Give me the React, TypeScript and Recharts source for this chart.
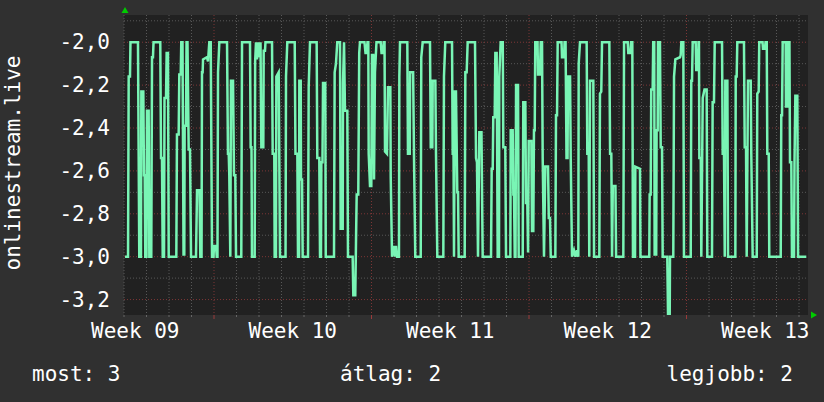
import React from 'react';
import { LineChart, Line, XAxis, YAxis, CartesianGrid } from 'recharts';

// time in hours from the left edge of the graph window, value of onlinestream.live
const hours = [
  1.1, 4.3, 5.0, 6.4, 6.9, 14.9, 16.3, 18.1, 18.5, 20.6, 21.3, 22.1, 22.7, 24.0, 24.5, 26.3, 27.0, 29.1, 29.9, 30.9,
  31.5, 38.7, 39.5, 40.5, 41.3, 42.7, 43.2, 44.8, 45.5, 46.9, 47.7, 55.8, 56.5, 58.3, 59.0, 60.5, 61.1, 62.4, 63.5, 64.3,
  64.7, 66.1, 66.7, 67.7, 69.0, 70.4, 71.5, 76.8, 77.9, 80.5, 81.4, 82.7, 83.2, 83.9, 84.3, 88.5, 89.6, 91.0, 92.5, 93.9,
  95.5, 96.0, 98.1, 98.9, 99.7, 100.3, 101.7, 109.9, 110.9, 111.7, 112.3, 113.4, 114.1, 116.3, 117.3, 118.7, 119.5, 125.1, 125.9, 134.4,
  135.1, 136.0, 136.5, 139.4, 139.9, 140.8, 141.9, 142.9, 144.3, 145.6, 146.5, 148.6, 149.0, 150.4, 150.9, 157.9, 158.6, 160.3, 160.7, 162.1,
  162.5, 165.0, 166.4, 172.3, 172.8, 174.2, 182.1, 182.9, 184.9, 185.6, 186.7, 187.0, 188.5, 188.8, 189.9, 190.6, 196.3, 197.0, 198.4, 205.5,
  206.2, 208.3, 209.1, 210.1, 210.5, 211.7, 212.3, 214.7, 215.2, 224.0, 224.7, 226.1, 227.5, 230.4, 231.1, 233.3, 233.6, 234.7, 235.7, 238.2,
  238.9, 243.9, 244.6, 246.7, 247.5, 248.2, 249.9, 250.9, 251.7, 256.5, 257.6, 258.8, 259.7, 260.6, 261.0, 262.4, 263.8, 264.5, 265.9, 266.7,
  267.7, 269.3, 273.8, 274.7, 276.3, 277.0, 277.9, 278.4, 280.5, 281.6, 284.1, 284.5, 285.9, 288.0, 289.1, 290.1, 291.2, 293.3, 293.7, 294.4,
  302.2, 302.9, 304.8, 305.2, 308.4, 309.3, 310.7, 316.5, 317.1, 318.6, 326.4, 327.2, 328.9, 329.3, 332.1, 332.8, 334.2, 340.6, 341.3, 342.7,
  349.9, 350.6, 351.5, 352.0, 352.8, 354.1, 355.5, 356.3, 357.0, 363.4, 364.1, 365.5, 366.6, 374.4, 375.5, 376.5, 377.6, 379.0, 381.3, 382.6,
  391.5, 392.2, 393.3, 393.9, 395.4, 396.1, 397.5, 398.6, 400.0, 400.3, 401.8, 404.0, 404.6, 406.7, 407.5, 412.1, 412.5, 414.6, 415.3, 416.0,
  416.8, 417.6, 418.2, 420.3, 421.0, 425.3, 425.9, 428.1, 428.8, 430.2, 431.0, 431.7, 434.5, 435.2, 436.6, 437.3, 438.1, 438.7, 441.1, 441.6,
  443.7, 444.5, 445.9, 446.6, 448.0, 449.4, 452.3, 453.1, 454.4, 455.2, 460.1, 460.8, 461.9, 462.6, 466.7, 467.2, 469.4, 469.9, 471.0, 472.0,
  473.1, 473.6, 475.8, 476.5, 477.9, 480.0, 481.6, 483.2, 484.6, 485.0, 486.4, 493.5, 494.2, 495.7, 496.3, 497.1, 500.6, 501.4, 507.0, 507.7,
  509.1, 509.9, 517.7, 518.5, 519.8, 520.6, 521.4, 524.2, 524.9, 532.6, 533.4, 537.3, 537.9, 540.1, 540.8, 542.2, 542.9, 545.1, 545.4, 550.4,
  550.9, 560.3, 560.7, 561.8, 562.4, 563.9, 564.5, 565.6, 566.0, 567.7, 568.1, 569.3, 569.6, 571.7, 572.5, 573.9, 574.6, 579.5, 580.3, 582.1,
  582.4, 585.9, 586.7, 588.1, 593.1, 593.8, 594.5, 596.6, 597.3, 604.5, 605.1, 605.9, 606.6, 609.8, 610.4, 612.2, 612.8, 613.3, 613.7, 615.2,
  615.8, 617.3, 619.2, 621.5, 622.2, 627.2, 627.9, 629.3, 630.1, 637.9, 638.6, 640.0, 640.8, 641.4, 643.6, 644.3, 652.1, 652.5, 653.5, 654.2,
  661.3, 662.1, 663.5, 664.2, 665.6, 668.5, 669.1, 670.6, 674.9, 675.5, 677.0, 677.6, 681.1, 681.6, 683.7, 684.3, 685.6, 686.2, 687.7, 688.3,
  700.5, 701.1, 701.9, 702.6, 705.8, 706.1, 707.5, 707.9, 709.8, 710.4, 711.8, 712.5, 714.7, 715.2, 716.1, 718.2, 719.0, 727.8,
];

const values = [
  -3.0, -3.0, -2.16, -2.16, -2.0, -2.0, -3.0, -3.0, -2.23, -2.23, -2.62, -2.62, -3.0, -3.0, -2.32, -2.32, -3.0, -3.0, -2.07, -2.07,
  -2.0, -2.0, -2.54, -2.54, -3.0, -3.0, -2.26, -2.26, -2.05, -2.05, -3.0, -3.0, -2.43, -2.43, -2.15, -2.15, -2.0, -2.0, -2.99, -2.99,
  -2.39, -2.39, -2.0, -2.0, -2.5, -2.5, -3.0, -3.0, -2.69, -2.69, -3.0, -3.0, -2.14, -2.14, -2.08, -2.07, -2.09, -2.0, -2.0, -3.0,
  -3.0, -2.95, -2.95, -3.0, -3.0, -2.14, -2.0, -2.0, -2.52, -2.52, -2.62, -3.0, -2.18, -2.18, -2.62, -2.62, -3.0, -3.0, -2.0, -2.0,
  -2.49, -2.49, -3.0, -3.0, -2.09, -2.0, -2.08, -2.0, -2.07, -2.0, -2.49, -2.49, -2.04, -2.04, -2.0, -2.0, -2.52, -2.52, -3.0, -3.0,
  -2.16, -2.14, -3.0, -3.0, -2.16, -2.0, -2.0, -2.52, -2.52, -3.0, -3.0, -2.18, -2.18, -2.64, -2.64, -3.0, -3.0, -2.21, -2.0, -2.0,
  -2.54, -2.54, -3.0, -3.0, -2.56, -2.56, -2.19, -2.19, -3.0, -3.0, -2.14, -2.1, -2.0, -2.0, -2.87, -2.87, -2.19, -2.0, -2.32, -2.32,
  -3.0, -3.0, -3.18, -3.18, -2.92, -2.71, -2.71, -2.05, -2.0, -2.0, -2.05, -2.05, -2.0, -2.0, -2.52, -2.67, -2.67, -2.06, -2.06, -2.64,
  -2.14, -2.0, -2.0, -2.05, -2.05, -2.0, -2.0, -2.51, -2.52, -2.21, -2.21, -2.63, -3.0, -2.95, -3.0, -2.95, -3.0, -3.0, -2.16, -2.0,
  -2.0, -2.52, -2.52, -2.14, -2.14, -2.52, -3.0, -3.0, -2.07, -2.0, -2.0, -2.49, -2.49, -2.18, -2.18, -2.52, -3.0, -3.0, -2.16, -2.0,
  -2.0, -2.52, -2.52, -3.0, -2.23, -2.23, -2.7, -2.7, -3.0, -3.0, -2.14, -2.14, -2.0, -2.0, -2.54, -2.56, -3.0, -2.42, -2.42, -3.0,
  -3.0, -2.59, -2.59, -2.35, -2.35, -2.05, -2.05, -3.0, -3.0, -2.16, -2.0, -2.0, -2.49, -2.49, -3.0, -3.0, -2.41, -2.41, -2.71, -2.71,
  -3.0, -3.0, -2.2, -2.2, -3.0, -3.0, -2.28, -2.28, -2.75, -2.75, -2.98, -2.46, -2.46, -2.88, -2.88, -2.41, -2.41, -2.0, -2.0, -2.15,
  -2.15, -2.0, -2.0, -2.54, -3.0, -2.58, -2.58, -2.82, -2.82, -3.0, -3.0, -2.34, -2.34, -2.0, -2.0, -2.07, -2.07, -2.0, -2.0, -2.54,
  -2.54, -2.16, -2.16, -2.54, -3.0, -2.97, -3.0, -2.97, -3.0, -2.1, -2.0, -2.0, -2.52, -2.52, -3.0, -2.18, -2.18, -3.0, -3.0, -2.24,
  -2.23, -2.0, -2.0, -2.52, -2.52, -3.0, -2.67, -2.67, -3.0, -3.0, -2.0, -2.0, -2.05, -2.05, -2.0, -2.0, -3.0, -3.0, -2.58, -2.59,
  -3.0, -3.0, -2.71, -2.71, -2.22, -2.22, -2.0, -2.0, -2.99, -2.99, -2.41, -2.41, -2.0, -2.0, -2.49, -2.49, -3.0, -3.0, -3.27, -3.27,
  -3.0, -3.0, -2.16, -2.08, -2.07, -2.06, -2.0, -2.0, -3.0, -3.0, -2.18, -2.18, -2.0, -2.0, -2.13, -2.13, -2.0, -2.0, -2.54, -2.54,
  -3.0, -2.26, -2.22, -2.22, -3.0, -3.0, -2.28, -2.28, -2.0, -2.0, -2.52, -2.52, -3.0, -2.18, -2.18, -3.0, -3.0, -2.16, -2.16, -2.0,
  -2.0, -2.49, -2.49, -3.0, -2.18, -2.18, -2.52, -3.0, -3.0, -2.24, -2.23, -2.0, -2.0, -2.03, -2.03, -2.0, -2.0, -2.52, -2.52, -3.0,
  -3.0, -2.34, -2.34, -2.0, -2.0, -2.3, -2.3, -2.0, -2.0, -2.56, -2.56, -3.0, -3.0, -2.56, -2.25, -2.25, -3.0, -3.0,
];

const xDomain: [number, number] = [0, 729.6];
const yDomain: [number, number] = [-3.272, -1.873];

const weekLabels = ['Week 09', 'Week 10', 'Week 11', 'Week 12', 'Week 13'];
const weekLabelHours = [12, 180, 348, 516, 684];
const weekGridHours = [96, 264, 432, 600];
const dayGridHours = [
  0, 24, 48, 72, 120, 144, 168, 192, 216, 240, 288, 312, 336, 360, 384, 408, 456, 480, 504, 528,
  552, 576, 624, 648, 672, 696, 720,
];
const yTicks = [-3.2, -3.0, -2.8, -2.6, -2.4, -2.2, -2.0];
const yMinorGrid = [-3.1, -2.9, -2.7, -2.5, -2.3, -2.1, -1.9];

const yTitle = 'onlinestream.live';
const legendLabels = ['most', 'átlag', 'legjobb'];
const legendValues = ['3', '2', '2'];

const data = hours.map((t, i) => ({ t, v: values[i] }));

const FONT = '"DejaVu Sans Mono", monospace';
const LINE_COLOR = '#79f5b5';

const W = 824;
const H = 402;
const PLOT_LEFT = 124;
const PLOT_RIGHT = 808;
const PLOT_TOP = 15;
const PLOT_BOTTOM = 315;

const WeekTick = (props: any) => {
  const { x, payload } = props;
  const idx = weekLabelHours.indexOf(payload.value);
  return (
    <text x={x} y={338} textAnchor="middle" fill="#ffffff" fontFamily={FONT} fontSize={21}>
      {weekLabels[idx]}
    </text>
  );
};

const GridTick = (props: any) => {
  const { x, payload } = props;
  const major = weekGridHours.indexOf(payload.value) >= 0;
  return (
    <line x1={x} x2={x} y1={PLOT_BOTTOM} y2={PLOT_BOTTOM + (major ? 4 : 2)} stroke={major ? '#9a3a3a' : '#666666'} strokeWidth={1} />
  );
};

const YTick = (props: any) => {
  const { y, payload } = props;
  const label = Number(payload.value).toFixed(1).replace('.', ',');
  return (
    <text x={110} y={y} textAnchor="end" dominantBaseline="central" fill="#ffffff" fontFamily={FONT} fontSize={21}>
      {label}
    </text>
  );
};

export default function App() {
  const allGridTicks = [...dayGridHours, ...weekGridHours].sort((a, b) => a - b);
  return (
    <div style={{ position: 'absolute', left: 0, top: 0, width: W, height: H, background: '#303030', overflow: 'hidden' }}>
      <LineChart
        width={W}
        height={H}
        data={data}
        margin={{ top: PLOT_TOP, right: W - PLOT_RIGHT, bottom: H - PLOT_BOTTOM - 2, left: PLOT_LEFT - 1 }}
      >
        <CartesianGrid
          fill="#212121"
          stroke="#585858"
          strokeDasharray="1 2"
          horizontalValues={yMinorGrid}
          verticalValues={dayGridHours}
        />
        <CartesianGrid
          fill="none"
          stroke="#7d3636"
          strokeDasharray="1 2"
          horizontalValues={yTicks}
          verticalValues={weekGridHours}
        />
        <XAxis
          dataKey="t"
          type="number"
          domain={xDomain}
          ticks={weekLabelHours}
          interval={0}
          tick={<WeekTick />}
          tickLine={false}
          axisLine={false}
          height={1}
          allowDataOverflow
        />
        <XAxis
          xAxisId="gridTicks"
          dataKey="t"
          type="number"
          domain={xDomain}
          ticks={allGridTicks}
          interval={0}
          tick={<GridTick />}
          tickLine={false}
          axisLine={false}
          height={1}
          allowDataOverflow
        />
        <YAxis
          type="number"
          domain={yDomain}
          ticks={yTicks}
          interval={0}
          width={1}
          tick={<YTick />}
          tickLine={false}
          axisLine={false}
          allowDataOverflow
        />
        <Line
          type="linear"
          dataKey="v"
          stroke={LINE_COLOR}
          strokeWidth={2.5}
          dot={false}
          isAnimationActive={false}
        />
      </LineChart>
      <svg
        width={W}
        height={H}
        style={{ position: 'absolute', left: 0, top: 0, pointerEvents: 'none' }}
      >
        <polygon points="125,7 121.5,13 128.5,13" fill="#00cc00" />
        <polygon points="817,315 811,311.5 811,318.5" fill="#00cc00" />
        <text
          transform="translate(20,163) rotate(-90)"
          textAnchor="middle"
          fill="#ffffff"
          fontFamily={FONT}
          fontSize={21}
        >
          {yTitle}
        </text>
        <text x={32} y={381} fill="#ffffff" fontFamily={FONT} fontSize={21}>
          {`${legendLabels[0]}: ${legendValues[0]}`}
        </text>
        <text x={340} y={381} fill="#ffffff" fontFamily={FONT} fontSize={21}>
          {`${legendLabels[1]}: ${legendValues[1]}`}
        </text>
        <text x={793} y={381} textAnchor="end" fill="#ffffff" fontFamily={FONT} fontSize={21}>
          {`${legendLabels[2]}: ${legendValues[2]}`}
        </text>
      </svg>
    </div>
  );
}
